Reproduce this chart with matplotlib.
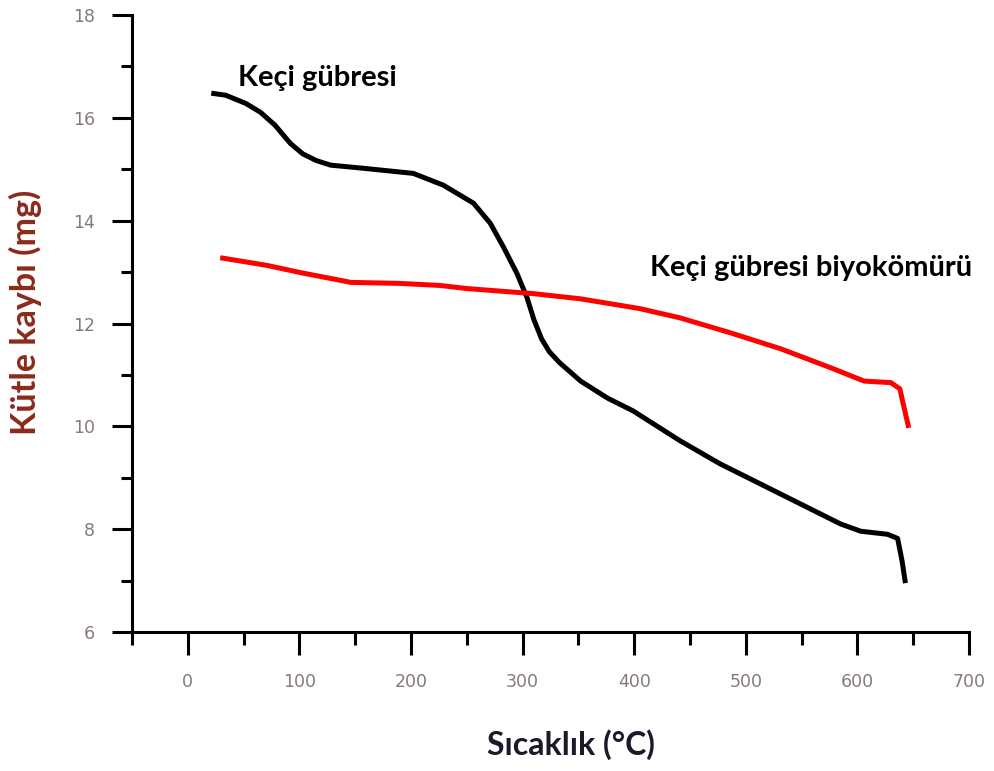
import matplotlib.pyplot as plt
from matplotlib.ticker import MultipleLocator

# Keçi gübresi (goat manure) TGA curve
manure_temp = [21, 34, 52, 65, 78, 92, 103, 115, 128, 157, 202, 229, 256, 271,
               283, 295, 304, 310, 317, 324, 333, 352, 376, 399, 441, 477, 513,
               549, 585, 603, 627, 636, 640, 643]
manure_mass = [16.48, 16.44, 16.28, 16.11, 15.86, 15.50, 15.30, 15.17, 15.08,
               15.02, 14.92, 14.69, 14.34, 13.95, 13.48, 12.97, 12.50, 12.08,
               11.70, 11.45, 11.24, 10.88, 10.55, 10.30, 9.72, 9.27, 8.88, 8.49,
               8.10, 7.96, 7.90, 7.82, 7.38, 6.95]

# Keçi gübresi biyokömürü (goat manure biochar) TGA curve
biochar_temp = [29, 71, 101, 146, 190, 226, 250, 310, 352, 405, 441, 486, 531,
                576, 606, 630, 638, 641, 646]
biochar_mass = [13.28, 13.13, 12.99, 12.80, 12.78, 12.74, 12.68, 12.58, 12.48,
                12.29, 12.11, 11.82, 11.51, 11.14, 10.88, 10.85, 10.73, 10.44,
                9.97]

xticks = [0, 100, 200, 300, 400, 500, 600, 700]
yticks = [6, 8, 10, 12, 14, 16, 18]

fig = plt.figure(figsize=(9.95, 7.71), dpi=100)
ax = fig.add_axes([0.1327, 0.1803, 0.8412, 0.8002])

ax.plot(manure_temp, manure_mass, color='black', lw=3.6, solid_capstyle='butt')
ax.plot(biochar_temp, biochar_mass, color='#ff0000', lw=3.6, solid_capstyle='butt')

ax.set_xlim(-50, 700)
ax.set_ylim(6, 18)
ax.set_xticks(xticks)
ax.set_yticks(yticks)
ax.xaxis.set_minor_locator(MultipleLocator(50))
ax.yaxis.set_minor_locator(MultipleLocator(1))

for s in ['top', 'right']:
    ax.spines[s].set_visible(False)
for s in ['left', 'bottom']:
    ax.spines[s].set_linewidth(2.2)

ax.tick_params(axis='x', which='major', length=16.5, width=2.2, pad=13,
               labelsize=12.5, labelcolor='#857a7a')
ax.tick_params(axis='x', which='minor', length=9.4, width=2.2)
ax.tick_params(axis='y', which='major', length=14.4, width=2.2, pad=12,
               labelsize=12.5, labelcolor='#857a7a')
ax.tick_params(axis='y', which='minor', length=8, width=2.2)

# axis titles placed as figure text to match reference offsets
fig.text(571 / 995, 1 - 745 / 771, 'Sıcaklık (°C)', fontsize=23,
         fontweight='bold', family='Lato', color='#1a1a2a',
         ha='center', va='center')
fig.text(25 / 995, 1 - 312 / 771, 'Kütle kaybı (mg)', fontsize=24.5,
         fontweight='bold', family='Lato', color='#8b2a1a',
         ha='center', va='center', rotation=90)

ax.text(45, 16.77, 'Keçi gübresi', fontsize=21, fontweight='bold', family='Lato',
        va='center', ha='left')
ax.text(414, 13.07, 'Keçi gübresi biyokömürü', fontsize=21, fontweight='bold',
        family='Lato', va='center', ha='left')

fig.savefig('out.png', dpi=100)
